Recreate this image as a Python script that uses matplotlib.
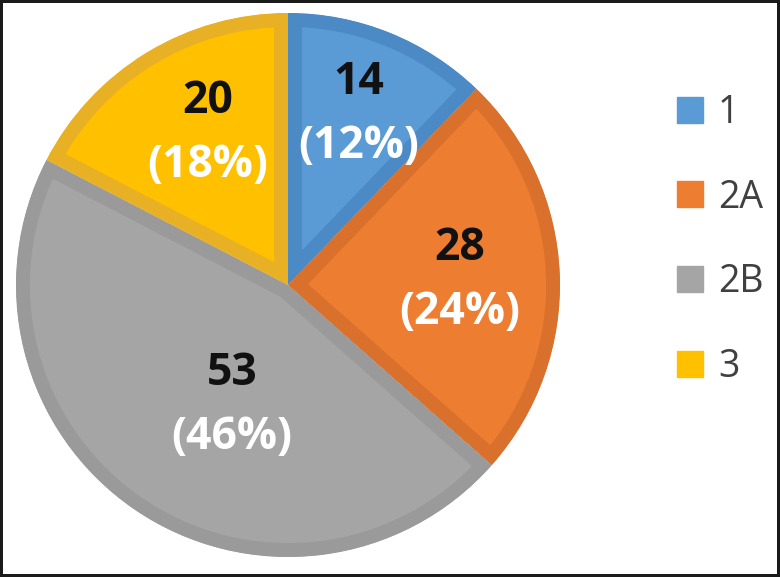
import numpy as np
import matplotlib
matplotlib.use("Agg")
import matplotlib.pyplot as plt
from matplotlib.patches import Patch

# data
groups = ["1", "2A", "2B", "3"]
counts = [14, 28, 53, 20]
pct_labels = ["(12%)", "(24%)", "(46%)", "(18%)"]

fill_colors = ["#5B9BD5", "#ED7D31", "#A5A5A5", "#FFC000"]
band_colors = ["#4C8AC6", "#D9712C", "#9A9A9B", "#E8B025"]

# where each label pair sits: fraction of radius, nudge of angle (deg)
label_r = [0.68, 0.63, 0.49, 0.63]
label_nudge = [-0.5, -1.0, 9.6, -3.5]

W, H = 780, 577
fig = plt.figure(figsize=(W / 100, H / 100), dpi=100)
fig.patch.set_facecolor("white")
fig.patch.set_edgecolor("#1a1a1a")
fig.patch.set_linewidth(4)

# pie centre (288, 285) px, radius 272 px
cx, cy, R = 288, 285, 272
ax = fig.add_axes([(cx - R) / W, (H - cy - R) / H, 2 * R / W, 2 * R / H])

wedges, _ = ax.pie(counts, colors=fill_colors, startangle=90,
                   counterclock=False, radius=1,
                   wedgeprops=dict(linewidth=0))
ax.set_xlim(-1, 1)
ax.set_ylim(-1, 1)
ax.set_aspect("equal")
ax.axis("off")

# darker inner band on every wedge: thick edge clipped to the wedge itself
for w, bc in zip(wedges, band_colors):
    w.set_edgecolor(bc)
    w.set_linewidth(20)
    w.set_clip_path(w)
    w.set_clip_on(True)

px = 1.0 / R  # one pixel in data units
for w, n, p, r, nd in zip(wedges, counts, pct_labels, label_r, label_nudge):
    ang = np.deg2rad((w.theta1 + w.theta2) / 2 + nd)
    x, y = r * np.cos(ang), r * np.sin(ang)
    ax.text(x, y + 32 * px, str(n), ha="center", va="center",
            fontsize=32, fontweight="bold", family="Open Sans", color="#111111")
    ax.text(x, y - 32 * px, p, ha="center", va="center",
            fontsize=32, fontweight="bold", family="Open Sans", color="white")

handles = [Patch(facecolor=c, edgecolor=c) for c in fill_colors]
fig.legend(handles, groups, loc="center left",
           bbox_to_anchor=(677 / W, (H - 240) / H),
           frameon=False, borderpad=0, borderaxespad=0,
           handlelength=0.69, handleheight=0.69, handletextpad=0.4,
           labelspacing=1.25,
           prop=dict(family="Open Sans", size=27), labelcolor="#404040")

fig.savefig("out.png", dpi=100)
